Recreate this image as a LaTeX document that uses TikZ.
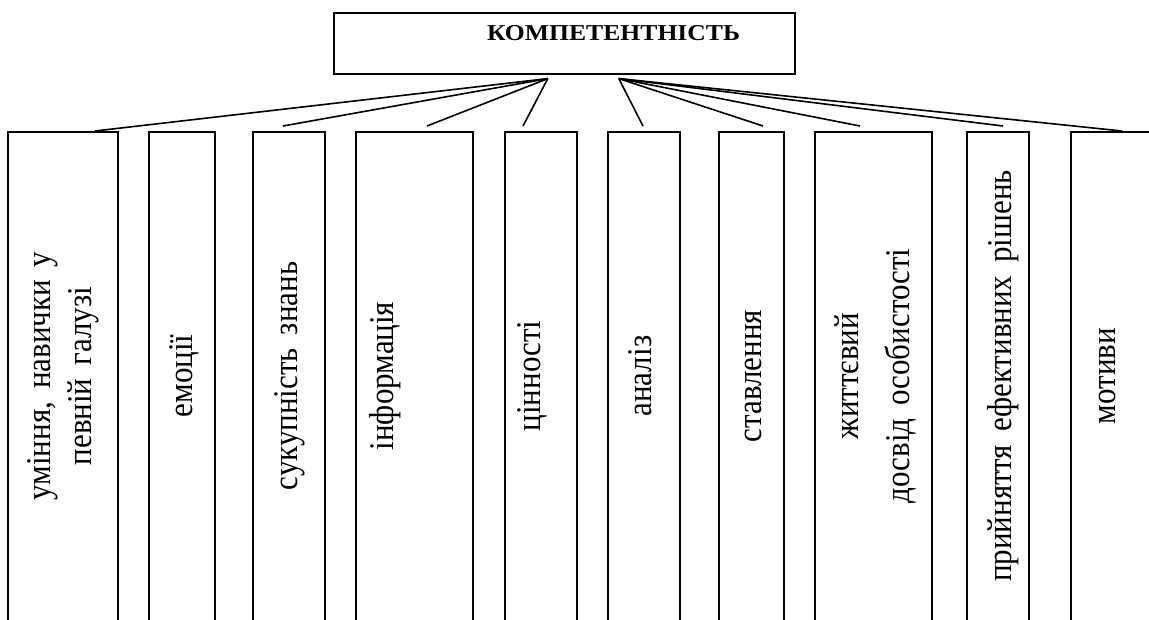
\documentclass[tikz,border=0pt]{standalone}
\usepackage{fontspec}
\setmainfont{Liberation Serif}
\usetikzlibrary{calc}
\tikzset{
  block/.style={draw, line width=1.6pt, anchor=north west, minimum height=520},
  vtext/.style={rotate=90, yscale=1.12, align=center, inner sep=0pt,
    font=\fontsize{31}{36.6}\selectfont,
    execute at begin node={\spaceskip=13pt\relax},
    text height=22pt, text depth=7.75pt},
  link/.style={line width=1.6pt}
}
\begin{document}
\begin{tikzpicture}[x=1pt, y=-1pt]
\useasboundingbox (0,0) rectangle (1149,619);
\clip (0,0) rectangle (1149,619);
% main block
\node[draw, line width=1.6pt, anchor=north west, minimum width=461, minimum height=61] (komp) at (333,12) {};
\node[anchor=base, xscale=1.13, font=\bfseries\fontsize{22.7}{27}\selectfont] (kompt) at (613.5,40) {КОМПЕТЕНТНІСТЬ};
% component blocks
\foreach \n/\x/\w in {b1/7/110, b2/148/66, b3/252/72, b4/355/117, b5/504/72,
                      b6/607/72, b7/718/65, b8/814/117, b9/966/62, b10/1070/110}
  \node[block, minimum width=\w] (\n) at (\x,131) {};
\foreach \n/\x/\h/\t in {t1/63/58.6/{уміння, навички у\\певній галузі}, t2/185/22/емоції,
                      t3/290/22/сукупність знань, t4/386/22/інформація, t5/533/22/цінності,
                      t6/644/22/аналіз, t7/754/22/ставлення,
                      t8/876/67.6/{життєвий\\[9pt]досвід особистості},
                      t9/1004/22/прийняття ефективних рішень, t10/1108/22/мотиви}
  \node[vtext, text height=\h pt] (\n) at (\x,376) {\t};
% links
\coordinate (hl) at ($(komp.south)+(-16.5,4)$);
\coordinate (hr) at ($(komp.south)+(54.5,4)$);
\foreach \b/\dx/\dy in {b1/88/0, b3/31/-5, b4/72/-5, b5/19/-5}
  \draw[link] (hl) -- ($(\b.north west)+(\dx,\dy)$);
\foreach \b/\dx/\dy in {b6/36/-5, b7/45/-5, b8/46/-5, b9/37/-5, b10/52/0}
  \draw[link] (hr) -- ($(\b.north west)+(\dx,\dy)$);
\end{tikzpicture}
\end{document}
